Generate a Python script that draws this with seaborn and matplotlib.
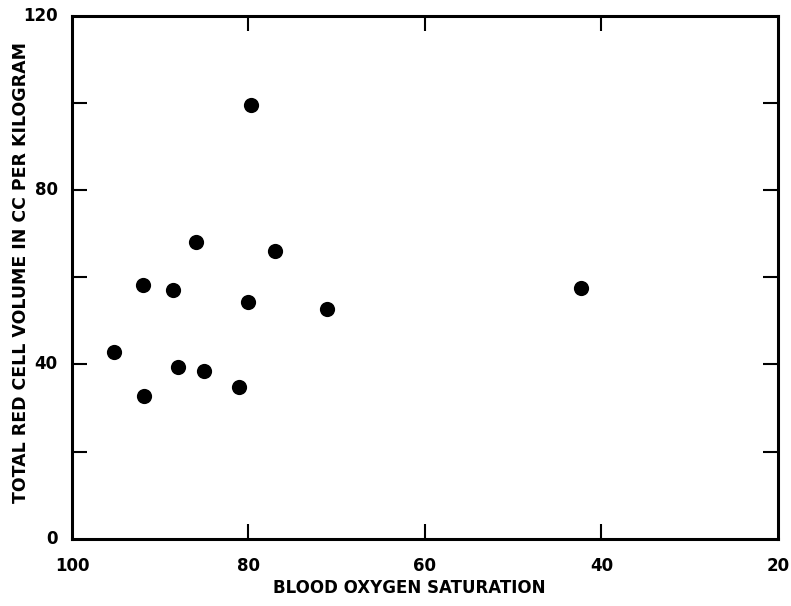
import matplotlib
matplotlib.use("Agg")
import matplotlib.pyplot as plt
import seaborn as sns
import pandas as pd

oxygen_saturation = [95.2, 91.9, 91.8, 88.5, 88.0, 85.9, 85.0, 81.1, 80.0, 79.7, 77.0, 71.1, 42.3]
red_cell_volume = [42.8, 58.2, 32.7, 57.0, 39.4, 68.1, 38.5, 34.9, 54.4, 99.6, 66.0, 52.8, 57.5]

x_ticks = [80, 60, 40]
x_labels = [100, 80, 60, 40, 20]
y_ticks = [20, 40, 60, 80, 100]
y_labels = [0, 40, 80, 120]

df = pd.DataFrame({"x": oxygen_saturation, "y": red_cell_volume})

sns.set_style("white")
plt.rcParams['font.family'] = ['DejaVu Sans']
plt.rcParams['text.color'] = 'black'

fig = plt.figure(figsize=(7.91, 6.06), dpi=100)
ax = fig.add_axes([0.091, 0.111, 0.8925, 0.863])

sns.scatterplot(data=df, x="x", y="y", ax=ax, color="black", s=120,
                edgecolor="black", linewidth=0, legend=False)

ax.set_xlim(100, 20)
ax.set_ylim(0, 120)

for side in ["left", "right", "top", "bottom"]:
    ax.spines[side].set_linewidth(2.2)
    ax.spines[side].set_color("black")

ax.set_xticks(x_ticks)
ax.set_xticklabels([])
ax.set_yticks(y_ticks)
ax.set_yticklabels([])
ax.tick_params(axis="both", direction="in", length=11, width=1.5, color="black",
               top=True, right=True, bottom=True, left=True)

for v in x_labels:
    ax.text(v, -4.3, str(v), ha="center", va="top", fontsize=12,
            fontweight="bold", color="black")
for v in y_labels:
    ax.text(101.6, v, str(v), ha="right", va="center", fontsize=12,
            fontweight="bold", color="black")

ax.set_xlabel("")
ax.set_ylabel("")
fig.text(0.518, 0.03, "BLOOD OXYGEN SATURATION", ha="center", va="center",
         fontsize=12, fontweight="bold", color="black")
fig.text(0.027, 0.55, "TOTAL RED CELL VOLUME IN CC PER KILOGRAM", ha="center",
         va="center", rotation=90, fontsize=12.5, fontweight="bold", color="black")

fig.savefig("out.png", dpi=100)
